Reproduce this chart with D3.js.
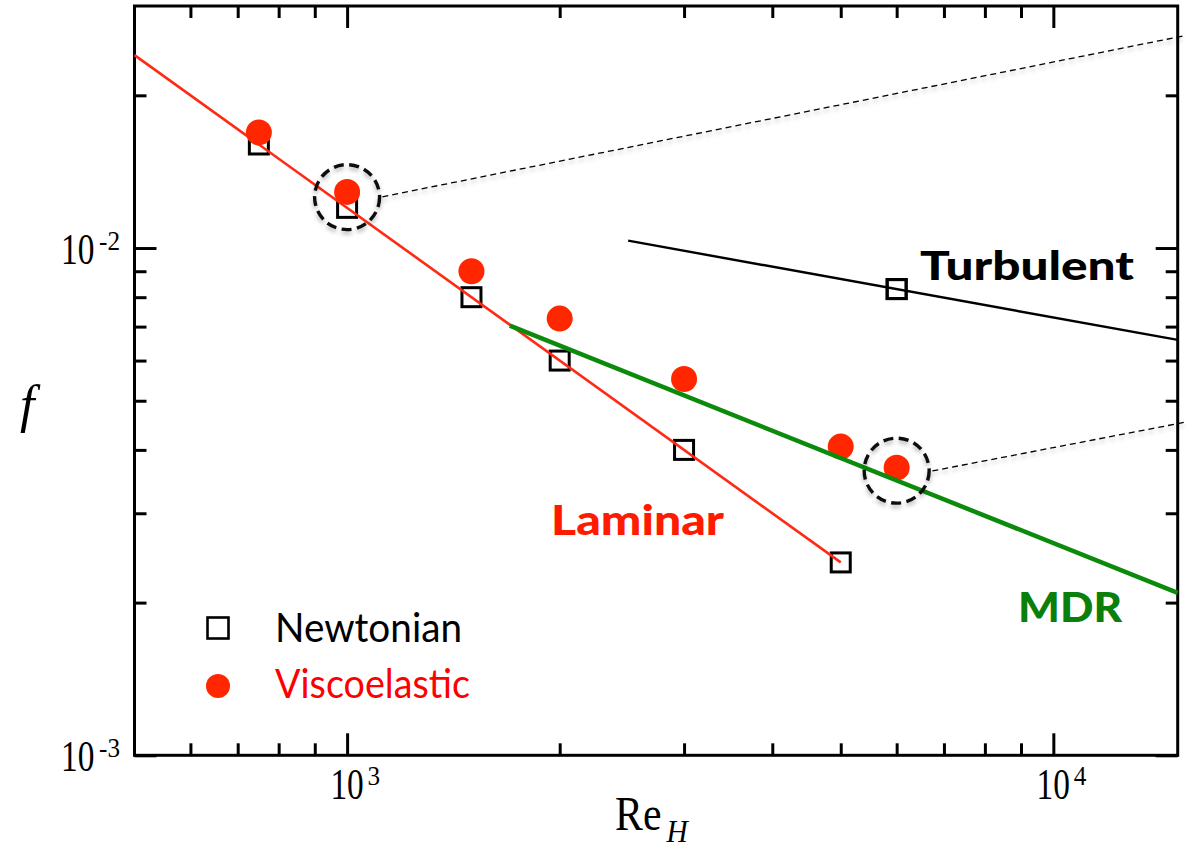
<!DOCTYPE html>
<html>
<head>
<meta charset="utf-8">
<script src="https://cdn.jsdelivr.net/npm/d3@7"></script>
<style>
  html, body { margin: 0; padding: 0; background: #fff; }
  svg { display: block; }
</style>
</head>
<body>
<div id="chart"></div>
<script>
// ---------- data ----------
const reNewtonian = [750, 1000, 1500, 2000, 3000, 5000, 6000];
const fNewtonian  = [0.016, 0.012, 0.008, 0.006, 0.004, 0.0024, 0.0083];

const reViscoelastic = [750, 1000, 1500, 2000, 3000, 5000, 6000];
const fViscoelastic  = [0.0169, 0.0129, 0.0090, 0.00726, 0.00552, 0.00406, 0.00369];

const reLaminar = [500, 5000];
const fLaminar  = [0.024, 0.0024];

const reMDR = [1700, 15000];
const fMDR  = [0.00703, 0.00209];

const reTurbulent = [2500, 15000];
const fTurbulent  = [0.01034, 0.00659];

const reHighlight = [1000, 6000];
const fHighlight  = [0.0126, 0.00364];

const reConnector1 = [1122, 15300];
const fConnector1  = [0.01262, 0.0262];
const reConnector2 = [6741, 15300];
const fConnector2  = [0.003636, 0.00453];

const xMajorTicks = [1000, 10000];
const xMajorExp   = ["3", "4"];
const xMinorTicks = [600, 700, 800, 900, 2000, 3000, 4000, 5000, 6000, 7000, 8000, 9000];
const yMajorTicks = [0.001, 0.01];
const yMajorExp   = ["-3", "-2"];
const yMinorTicks = [0.002, 0.003, 0.004, 0.005, 0.006, 0.007, 0.008, 0.009, 0.02];

const legendLabels = ["Newtonian", "Viscoelastic"];

// ---------- layout ----------
const W = 1186, H = 850;
const L = 134.5, R = 1177.7, T = 6, B = 755.3;

const x = d3.scaleLog().domain([500, 15000]).range([L, R]);
const y = d3.scaleLog().domain([0.001, 0.03]).range([B, T]);

const svg = d3.select("#chart").append("svg")
  .attr("width", W).attr("height", H);

const defs = svg.append("defs");
const sh = defs.append("filter").attr("id", "shadow")
  .attr("x", "-20%").attr("y", "-20%").attr("width", "140%").attr("height", "160%");
sh.append("feDropShadow").attr("dx", 0).attr("dy", 3).attr("stdDeviation", 2)
  .attr("flood-color", "#000").attr("flood-opacity", 0.3);

const serif = "'Liberation Serif', 'Times New Roman', serif";
const sans = "Lato, 'Open Sans', sans-serif";

// ---------- axes (ticks inward on all four sides) ----------
function styleAxis(g) {
  g.select(".domain").remove();
  g.selectAll(".tick line").attr("stroke", "#000").attr("stroke-width", 3);
  g.selectAll(".tick text").remove();
}
svg.append("g").attr("transform", `translate(0,${B})`)
  .call(d3.axisBottom(x).tickValues(xMinorTicks).tickSize(-12).tickSizeOuter(0)).call(styleAxis);
svg.append("g").attr("transform", `translate(0,${B})`)
  .call(d3.axisBottom(x).tickValues(xMajorTicks).tickSize(-22).tickSizeOuter(0)).call(styleAxis);
svg.append("g").attr("transform", `translate(0,${T})`)
  .call(d3.axisTop(x).tickValues(xMinorTicks).tickSize(-12).tickSizeOuter(0)).call(styleAxis);
svg.append("g").attr("transform", `translate(0,${T})`)
  .call(d3.axisTop(x).tickValues(xMajorTicks).tickSize(-22).tickSizeOuter(0)).call(styleAxis);
svg.append("g").attr("transform", `translate(${L},0)`)
  .call(d3.axisLeft(y).tickValues(yMinorTicks).tickSize(-12).tickSizeOuter(0)).call(styleAxis);
svg.append("g").attr("transform", `translate(${L},0)`)
  .call(d3.axisLeft(y).tickValues(yMajorTicks).tickSize(-22).tickSizeOuter(0)).call(styleAxis);
svg.append("g").attr("transform", `translate(${R},0)`)
  .call(d3.axisRight(y).tickValues(yMinorTicks).tickSize(-12).tickSizeOuter(0)).call(styleAxis);
svg.append("g").attr("transform", `translate(${R},0)`)
  .call(d3.axisRight(y).tickValues(yMajorTicks).tickSize(-22).tickSizeOuter(0)).call(styleAxis);

svg.append("rect").attr("x", L).attr("y", T).attr("width", R - L).attr("height", B - T)
  .attr("fill", "none").attr("stroke", "#000").attr("stroke-width", 3);

// condensed serif text helper
function ctext(txt, px, py, size, sx, anchor, italic) {
  return svg.append("text")
    .attr("transform", `translate(${px},${py}) scale(${sx},1)`)
    .attr("text-anchor", anchor || "start")
    .attr("font-family", serif).attr("font-size", size)
    .attr("font-style", italic ? "italic" : "normal")
    .text(txt);
}

// tick labels
xMajorTicks.forEach((v, i) => {
  ctext("10", x(v), B + 44, 44, 0.76, "middle");
  ctext(xMajorExp[i], x(v) + 20.5, B + 30, 28, 0.9, "start");
});
yMajorTicks.forEach((v, i) => {
  ctext("10", 94.5, y(v) + 16, 44, 0.76, "end");
  ctext(yMajorExp[i], 99, y(v) + 2, 28, 0.9, "start");
});

// axis titles
const cx = (L + R) / 2;
ctext("Re", cx - 41, 830, 48, 0.87, "start");
ctext("H", cx + 10.5, 841.5, 31, 0.95, "start", true);
svg.append("text").attr("x", 20).attr("y", 422)
  .attr("font-family", serif).attr("font-size", 52).attr("font-style", "italic").text("f");

// ---------- series ----------
const line = d3.line().x(d => x(d[0])).y(d => y(d[1]));
const zip = (a, b) => a.map((v, i) => [v, b[i]]);

// Newtonian squares
const sq = 19;
svg.append("g").selectAll("rect").data(zip(reNewtonian, fNewtonian)).join("rect")
  .attr("x", d => x(d[0]) - sq / 2).attr("y", d => y(d[1]) - sq / 2)
  .attr("width", sq).attr("height", sq)
  .attr("fill", "none").attr("stroke", "#000").attr("stroke-width", 3);

// Laminar line
svg.append("path").datum(zip(reLaminar, fLaminar)).attr("d", line)
  .attr("fill", "none").attr("stroke", "#ff2a14").attr("stroke-width", 2.6);

// Viscoelastic dots
svg.append("g").selectAll("circle").data(zip(reViscoelastic, fViscoelastic)).join("circle")
  .attr("cx", d => x(d[0])).attr("cy", d => y(d[1])).attr("r", 13)
  .attr("fill", "#ff2600");

// MDR line
svg.append("path").datum(zip(reMDR, fMDR)).attr("d", line)
  .attr("fill", "none").attr("stroke", "#0c8a0c").attr("stroke-width", 4.5);

// Turbulent line
svg.append("path").datum(zip(reTurbulent, fTurbulent)).attr("d", line)
  .attr("fill", "none").attr("stroke", "#000").attr("stroke-width", 2.4);

// re-draw the turbulent square on top
svg.append("rect")
  .attr("x", x(reNewtonian[6]) - sq / 2).attr("y", y(fNewtonian[6]) - sq / 2)
  .attr("width", sq).attr("height", sq)
  .attr("fill", "none").attr("stroke", "#000").attr("stroke-width", 3);

// connectors and highlight circles
const ann = svg.append("g").attr("filter", "url(#shadow)");
[zip(reConnector1, fConnector1), zip(reConnector2, fConnector2)].forEach(seg => {
  ann.append("path").datum(seg).attr("d", line)
    .attr("fill", "none").attr("stroke", "#000").attr("stroke-width", 1.3)
    .attr("stroke-dasharray", "6,4");
});
ann.selectAll("circle").data(zip(reHighlight, fHighlight)).join("circle")
  .attr("cx", d => x(d[0])).attr("cy", d => y(d[1])).attr("r", 32.5)
  .attr("fill", "none").attr("stroke", "#111").attr("stroke-width", 3.4)
  .attr("stroke-dasharray", "10,5.5");

// ---------- annotations ----------
function label(txt, px, py, color, size, len) {
  svg.append("text").attr("x", px).attr("y", py)
    .attr("font-family", sans).attr("font-weight", 900).attr("font-size", size)
    .attr("fill", color).attr("textLength", len).attr("lengthAdjust", "spacingAndGlyphs")
    .text(txt);
}
label("Turbulent", 920, 280, "#000", 40, 214);
label("Laminar", 551, 535, "#ff1a00", 41, 173);
label("MDR", 1018, 621.5, "#0a7f0a", 41, 104);

// ---------- legend ----------
svg.append("rect").attr("x", 218 - 10.5).attr("y", 628 - 10.5).attr("width", 21).attr("height", 21)
  .attr("fill", "none").attr("stroke", "#000").attr("stroke-width", 2.6);
svg.append("circle").attr("cx", 218).attr("cy", 686).attr("r", 12).attr("fill", "#ff2600");
svg.append("text").attr("x", 275).attr("y", 641.5)
  .attr("font-family", sans).attr("font-size", 41).attr("fill", "#000")
  .attr("textLength", 187).attr("lengthAdjust", "spacingAndGlyphs").text(legendLabels[0]);
svg.append("text").attr("x", 275).attr("y", 697.5)
  .attr("font-family", sans).attr("font-size", 41).attr("fill", "#ff0000")
  .attr("textLength", 195).attr("lengthAdjust", "spacingAndGlyphs").text(legendLabels[1]);
</script>
</body>
</html>
